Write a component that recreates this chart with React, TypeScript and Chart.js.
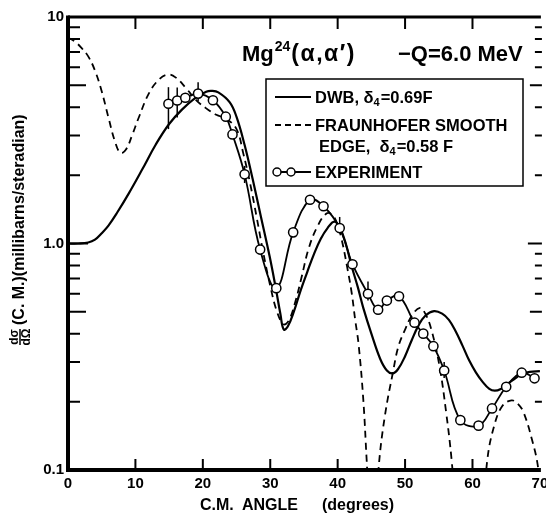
import { useEffect, useRef } from "react";
import { Chart, registerables } from "chart.js";
Chart.register(...registerables);

const FONT = '"Liberation Sans", Arial, sans-serif';

// Axis ticks
const xTickValues = [0, 10, 20, 30, 40, 50, 60, 70];
const yMajor = [0.1, 1, 10];
const yMajorLabels = ["0.1", "1.0", "10"];

// DWB, delta4 = 0.69F (solid)
const dwbX = [0, 1.5, 3, 4, 5, 6, 7.3, 9, 11, 13, 15, 16.9, 18.9, 20.5, 21.3, 22.3, 24, 25, 26.2, 27.4, 28.6, 29.9, 30.8, 31.5, 32.0, 32.6, 33.5, 34.5, 35.5, 36.5, 37.5, 38.5, 39.5, 40.3, 41.2, 42.1, 43.0, 43.8, 45.0, 46.3, 47.3, 48.2, 49.0, 50.0, 51.0, 52.0, 53.0, 54.3, 55.5, 56.5, 57.5, 58.5, 59.5, 60.5, 61.5, 62.5, 63.3, 64.2, 65.1, 66.2, 67.2, 68.5, 70];
const dwbY = [1.0, 1.0, 1.01, 1.04, 1.11, 1.2, 1.37, 1.66, 2.12, 2.73, 3.37, 3.9, 4.39, 4.68, 4.72, 4.65, 4.2, 3.62, 2.72, 1.92, 1.32, 0.88, 0.64, 0.49, 0.417, 0.43, 0.5, 0.62, 0.75, 0.9, 1.05, 1.17, 1.25, 1.18, 1.0, 0.79, 0.64, 0.52, 0.40, 0.31, 0.275, 0.267, 0.28, 0.318, 0.375, 0.435, 0.48, 0.503, 0.49, 0.46, 0.41, 0.355, 0.305, 0.27, 0.245, 0.228, 0.224, 0.228, 0.239, 0.252, 0.264, 0.271, 0.273];

// Fraunhofer smooth edge, delta4 = 0.58F (dashed)
const frX = [0, 1, 2, 3, 4, 5, 6, 7, 7.8, 8.6, 9.5, 10.5, 12, 13.5, 14.8, 16, 17.5, 19, 20.5, 22, 23.5, 25, 26, 27, 28, 29, 30, 31, 32, 32.8, 33.7, 34.6, 35.7, 37, 38.4, 39.3, 40.0, 40.6, 41.4, 42.1, 42.6, 43.1, 43.8, 44.3, 44.8, 45.3, 45.7, 46.1, 47.0, 48.2, 49.0, 50.0, 51.0, 52.2, 53.0, 53.9, 55.1, 56.1, 56.9, 57.4, 57.9, 61.5, 61.8, 62.2, 63.2, 64.4, 65.8, 66.8, 67.6, 68.8, 69.7, 70.2];
const frY = [8.1, 7.8, 7.3, 6.7, 5.8, 4.7, 3.6, 2.8, 2.51, 2.6, 3.0, 3.6, 4.6, 5.3, 5.57, 5.4, 4.85, 4.3, 3.95, 3.7, 3.55, 3.2, 2.5, 1.85, 1.3, 0.9, 0.65, 0.5, 0.44, 0.46, 0.55, 0.7, 0.95, 1.19, 1.36, 1.33, 1.2, 1.04, 0.79, 0.6, 0.46, 0.36, 0.205, 0.111, 0.06, 0.04, 0.06, 0.104, 0.173, 0.27, 0.35, 0.417, 0.48, 0.52, 0.49, 0.417, 0.288, 0.179, 0.111, 0.07, 0.04, 0.04, 0.07, 0.111, 0.156, 0.191, 0.203, 0.195, 0.179, 0.137, 0.104, 0.07];

// Experiment
const expX = [14.9, 16.2, 17.4, 19.3, 21.5, 23.4, 24.4, 26.2, 28.5, 30.9, 33.4, 35.9, 37.9, 40.3, 42.2, 44.5, 46.0, 47.3, 49.1, 51.4, 52.7, 54.2, 55.8, 58.2, 60.9, 62.9, 65.0, 67.3, 69.2];
const expY = [4.14, 4.28, 4.40, 4.59, 4.29, 3.63, 3.03, 2.02, 0.94, 0.635, 1.12, 1.56, 1.46, 1.17, 0.81, 0.60, 0.51, 0.56, 0.585, 0.447, 0.40, 0.352, 0.275, 0.166, 0.157, 0.187, 0.233, 0.269, 0.254];

// Error bars
const errX = [14.9, 16.2, 19.3, 26.2, 40.3, 44.5, 55.8];
const errLo = [3.2, 3.6, 4.25, 1.85, 1.11, 0.56, 0.255];
const errHi = [4.9, 4.88, 5.15, 2.2, 1.31, 0.68, 0.30];

const decor = {
  id: "decor",
  beforeDatasetsDraw(chart: any) {
    const { ctx, scales } = chart;
    const x = scales.x, y = scales.y;
    ctx.save();
    ctx.strokeStyle = "#000";
    ctx.lineWidth = 1.5;
    errX.forEach((v, i) => {
      const px = x.getPixelForValue(v);
      ctx.beginPath();
      ctx.moveTo(px, y.getPixelForValue(errLo[i]));
      ctx.lineTo(px, y.getPixelForValue(errHi[i]));
      ctx.stroke();
    });
    ctx.restore();
  },
  afterDraw(chart: any) {
    const { ctx, chartArea: a, scales } = chart;
    const x = scales.x, y = scales.y;
    ctx.save();
    ctx.strokeStyle = "#000";
    ctx.fillStyle = "#000";
    ctx.lineCap = "butt";
    // frame: left, bottom, top
    ctx.lineWidth = 4;
    ctx.beginPath();
    ctx.moveTo(a.left, a.top - 1.5);
    ctx.lineTo(a.left, a.bottom + 2);
    ctx.stroke();
    ctx.beginPath();
    ctx.moveTo(a.left - 2, a.bottom);
    ctx.lineTo(a.right + 1, a.bottom);
    ctx.stroke();
    ctx.lineWidth = 3;
    ctx.beginPath();
    ctx.moveTo(a.left, a.top);
    ctx.lineTo(a.right + 1, a.top);
    ctx.stroke();
    // x ticks inward
    ctx.lineWidth = 2;
    xTickValues.forEach((v) => {
      if (v === 0 || v === 70) return;
      const px = x.getPixelForValue(v);
      ctx.beginPath();
      ctx.moveTo(px, a.bottom);
      ctx.lineTo(px, a.bottom - 11);
      ctx.moveTo(px, a.top);
      ctx.lineTo(px, a.top + 12);
      ctx.stroke();
    });
    // y ticks inward (log minor)
    [0.1, 1].forEach((d) => {
      for (let m = 1; m <= 9; m++) {
        if (d === 0.1 && m === 1) continue;
        const v = m * d;
        const py = y.getPixelForValue(v);
        const l = m === 1 ? 20 : m === 5 ? 18 : 12;
        const r = m === 1 ? 14 : m === 5 ? 12 : 7;
        ctx.beginPath();
        ctx.moveTo(a.left, py);
        ctx.lineTo(a.left + l, py);
        ctx.moveTo(a.right + 2, py);
        ctx.lineTo(a.right + 2 - r, py);
        ctx.stroke();
      }
    });

    // Title
    ctx.textAlign = "left";
    ctx.textBaseline = "alphabetic";
    ctx.font = `bold 22px ${FONT}`;
    let tx = 242;
    ctx.fillText("Mg", tx, 61);
    tx += ctx.measureText("Mg").width + 1;
    ctx.font = `bold 14px ${FONT}`;
    ctx.fillText("24", tx, 51);
    tx += ctx.measureText("24").width + 1;
    ctx.font = `bold 23px ${FONT}`;
    (ctx as any).letterSpacing = "1.5px";
    ctx.fillText("(α,α′)", tx, 61);
    (ctx as any).letterSpacing = "0px";
    ctx.font = `bold 22px ${FONT}`;
    ctx.fillText("−Q=6.0 MeV", 398, 61);

    // Legend box
    ctx.lineWidth = 1.5;
    ctx.strokeRect(266, 79, 257, 107);
    ctx.lineWidth = 2;
    ctx.beginPath();
    ctx.moveTo(275, 97);
    ctx.lineTo(311, 97);
    ctx.stroke();
    ctx.lineWidth = 1.8;
    ctx.setLineDash([6, 4]);
    ctx.beginPath();
    ctx.moveTo(275, 125);
    ctx.lineTo(311, 125);
    ctx.stroke();
    ctx.setLineDash([]);
    ctx.beginPath();
    ctx.moveTo(277, 172);
    ctx.lineTo(311, 172);
    ctx.stroke();
    ctx.lineWidth = 1.5;
    [277, 291].forEach((cx) => {
      ctx.beginPath();
      ctx.arc(cx, 172, 4, 0, Math.PI * 2);
      ctx.fillStyle = "#fff";
      ctx.fill();
      ctx.stroke();
    });
    ctx.fillStyle = "#000";
    const lf = `bold 16.5px ${FONT}`;
    const sf = `bold 11px ${FONT}`;
    const sub = (parts: [string, string][], sx: number, by: number) => {
      let cx = sx;
      parts.forEach(([t, kind]) => {
        ctx.font = kind === "s" ? sf : lf;
        ctx.fillText(t, cx, kind === "s" ? by + 3 : by);
        cx += ctx.measureText(t).width + (kind === "s" ? 1 : 0);
      });
    };
    sub([["DWB, δ", "n"], ["4", "s"], ["=0.69F", "n"]], 315, 103);
    ctx.font = lf;
    ctx.fillText("FRAUNHOFER SMOOTH", 315, 131);
    sub([["EDGE,  δ", "n"], ["4", "s"], ["=0.58 F", "n"]], 319, 152);
    ctx.font = lf;
    ctx.fillText("EXPERIMENT", 315, 178);

    // X axis title
    ctx.font = `bold 16px ${FONT}`;
    ctx.fillText("C.M.", 200, 510);
    ctx.fillText("ANGLE", 242, 510);
    ctx.fillText("(degrees)", 322, 510);

    // Y axis title (rotated)
    ctx.translate(20, 346);
    ctx.rotate(-Math.PI / 2);
    ctx.font = `bold 12px ${FONT}`;
    ctx.textAlign = "center";
    ctx.fillText("dσ", 9, -2.5);
    ctx.fillText("dΩ", 9, 10);
    ctx.lineWidth = 1.5;
    ctx.beginPath();
    ctx.moveTo(1, 0);
    ctx.lineTo(17, 0);
    ctx.stroke();
    ctx.font = `bold 16px ${FONT}`;
    ctx.textAlign = "left";
    ctx.textBaseline = "middle";
    ctx.fillText("(C. M.)(millibarns/steradian)", 21, 0);
    ctx.restore();
  },
};

export default function App() {
  const ref = useRef<HTMLCanvasElement>(null);
  useEffect(() => {
    if (!ref.current) return;
    const chart = new Chart(ref.current, {
      type: "line",
      data: {
        datasets: [
          {
            label: "EXPERIMENT",
            data: expX.map((v, i) => ({ x: v, y: expY[i] })),
            borderColor: "#000",
            borderWidth: 1.8,
            pointRadius: 4.6,
            pointBackgroundColor: "#fff",
            pointBorderColor: "#000",
            pointBorderWidth: 1.5,
            tension: 0.4,
            fill: false,
          },
          {
            label: "DWB",
            data: dwbX.map((v, i) => ({ x: v, y: dwbY[i] })),
            borderColor: "#000",
            borderWidth: 2.2,
            pointRadius: 0,
            tension: 0.4,
            fill: false,
          },
          {
            label: "FRAUNHOFER",
            data: frX.map((v, i) => ({ x: v, y: frY[i] })),
            borderColor: "#000",
            borderWidth: 1.8,
            borderDash: [7, 5],
            pointRadius: 0,
            tension: 0.4,
            fill: false,
          },
        ],
      },
      options: {
        animation: false,
        responsive: true,
        maintainAspectRatio: false,
        layout: { padding: { top: 17, right: 3, left: 0, bottom: 0 } },
        plugins: { legend: { display: false }, tooltip: { enabled: false } },
        events: [],
        scales: {
          x: {
            type: "linear",
            min: 0,
            max: 70,
            grid: { display: false, drawTicks: false },
            border: { display: false },
            ticks: {
              stepSize: 10,
              color: "#000",
              padding: 5,
              maxRotation: 0,
              font: { family: FONT, size: 15, weight: "bold" },
              callback: (v: any) => String(v),
            },
            afterFit: (s: any) => {
              s.height = 43;
              s.paddingLeft = 0;
              s.paddingRight = 0;
            },
          },
          y: {
            type: "logarithmic",
            min: 0.1,
            max: 10,
            grid: { display: false, drawTicks: false },
            border: { display: false },
            afterBuildTicks: (s: any) => {
              s.ticks = yMajor.map((v) => ({ value: v }));
            },
            ticks: {
              color: "#000",
              padding: 4,
              autoSkip: false,
              font: { family: FONT, size: 15, weight: "bold" },
              callback: (v: any) => {
                const i = yMajor.indexOf(Number(v));
                return i >= 0 ? yMajorLabels[i] : "";
              },
            },
            afterFit: (s: any) => {
              s.width = 68;
            },
          },
        },
      },
      plugins: [decor],
    });
    return () => chart.destroy();
  }, []);
  return (
    <div style={{ position: "absolute", left: 0, top: 0, width: 546, height: 513, background: "#fff" }}>
      <canvas ref={ref} />
    </div>
  );
}
